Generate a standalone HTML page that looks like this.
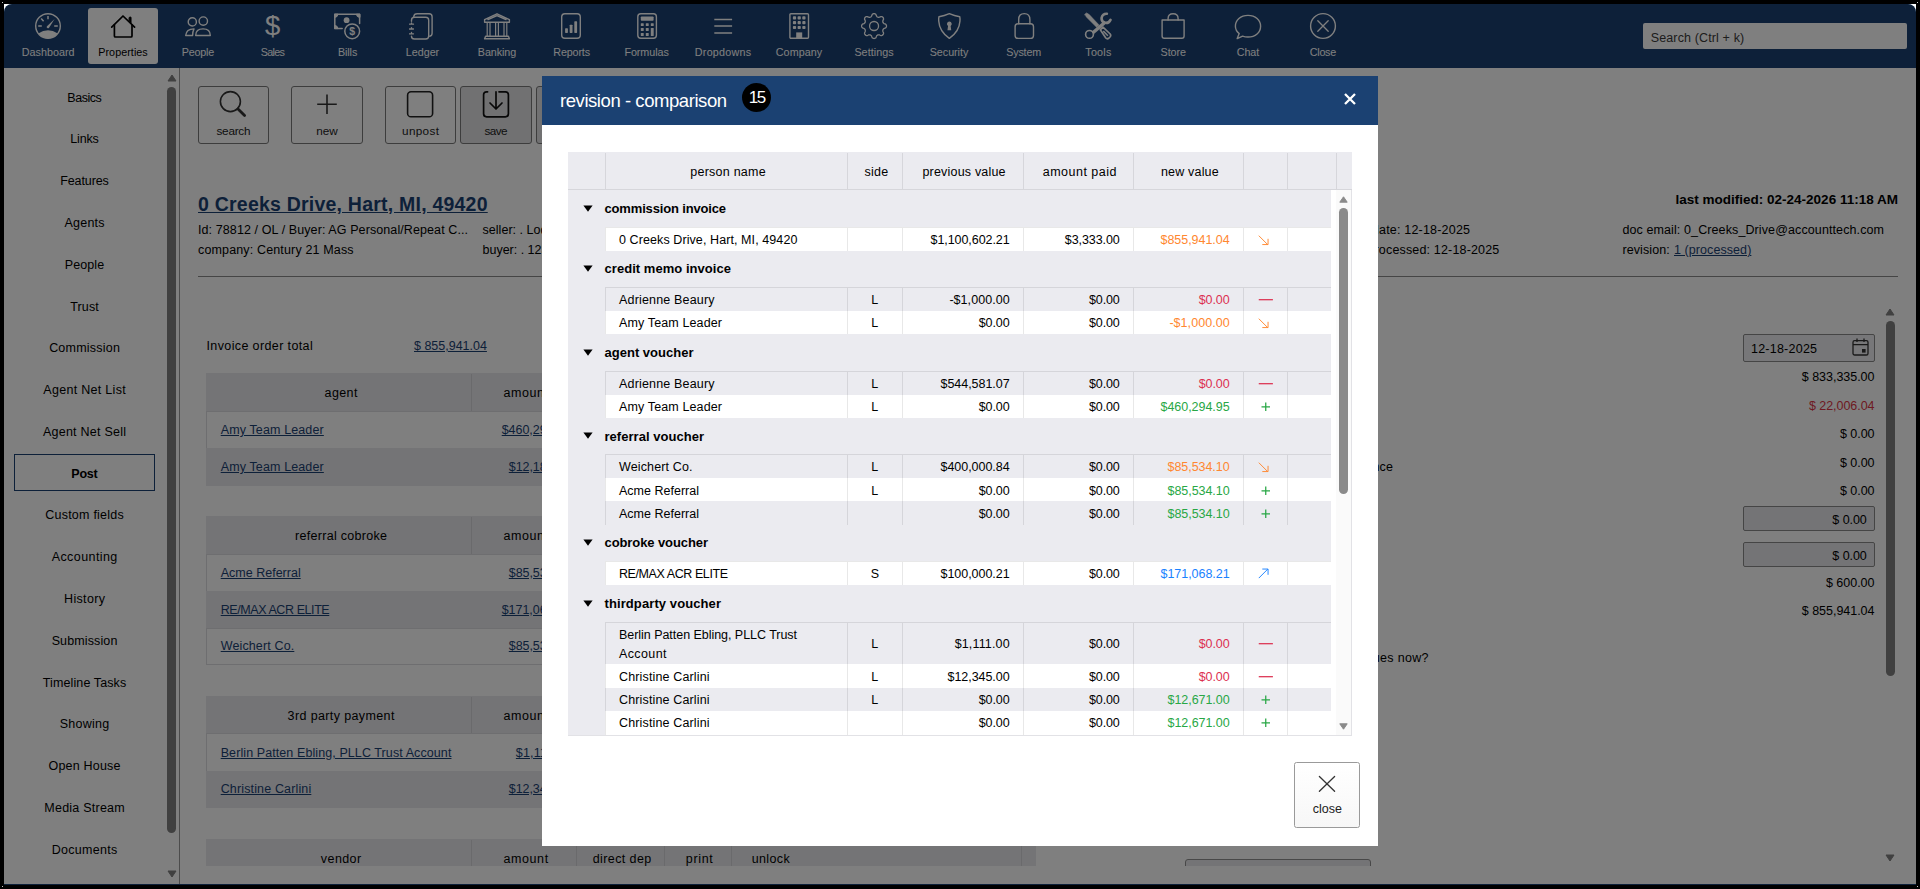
<!DOCTYPE html>
<html lang="en"><head><meta charset="utf-8"><title>revision - comparison</title>
<style>
*{box-sizing:border-box}
html,body{margin:0;padding:0}
body{width:1920px;height:889px;overflow:hidden;background:#000;position:relative;font-family:"Liberation Sans",Arial,sans-serif;color:#000}
#win{position:absolute;left:4px;top:4px;width:1912px;height:881px;background:#fff;overflow:hidden}
#page{position:absolute;left:-4px;top:-4px;width:1920px;height:889px}
#clip{position:absolute;left:0;top:0;width:1912px;height:881px;overflow:hidden;border-radius:8px 8px 0 0}
#page div,#page span,#page svg,#page a,#page nav,#page aside,#page main,#page header,#page section,
#modal div,#modal span,#modal svg,#modal header,#modal section,#modal button{position:absolute;white-space:pre;margin:0;padding:0}
#overlay{position:absolute;left:0;top:0;width:1912px;height:880px;background:rgba(0,0,0,.5);border-radius:8px 8px 0 0}
#modal{position:absolute;left:-4px;top:-4px;width:1920px;height:889px}
.lnk{color:#1b4172;text-decoration:underline}
button{font:inherit;background:none;border:0}
</style></head>
<body>
<div id="win">
<div id="clip">
<div id="page">
<nav style="left:4px;top:4px;width:1912px;height:64px;background:#1b4172">
<svg style="left:30.1px;top:8px;color:#fff" width="28" height="28" viewBox="0 0 28 28" fill="none" stroke="currentColor" stroke-width="1.4" stroke-linecap="round" stroke-linejoin="round" ><circle cx="14" cy="14" r="12.3"/>
<path d="M4.2 21.4 Q14 15 23.8 21.4 A12.3 12.3 0 0 1 4.2 21.4Z" fill="currentColor" stroke="none"/>
<path d="M13 14.2 L20.6 7 L14.9 15.9 Q13.6 16.8 12.8 15.6 Q12.4 14.8 13 14.2Z" fill="currentColor" stroke="none"/>
<path d="M14 3.9v3.4M7.2 6.6l2.4 2.6M4.2 14.1h3.6M20.2 14.1h3.6" stroke-width="1.5" stroke-linecap="butt"/></svg>
<span style="left:17.75px;top:42px;font-size:10.75px;line-height:12px;letter-spacing:0.014px;color:#fff;">Dashboard</span>
<div style="left:84px;top:4px;width:70px;height:56px;background:#fff;border-radius:3px"></div>
<svg style="left:105px;top:8px;color:#000" width="28" height="28" viewBox="0 0 28 28" fill="none" stroke="currentColor" stroke-width="1.4" stroke-linecap="round" stroke-linejoin="round" ><path d="M2.7 15.2 L14 4 L25.6 15.2" stroke-width="1.7"/>
<path d="M5.4 12.8 V24 Q5.4 25 6.4 25 H22 Q23 25 23 24 V12.8" stroke-width="1.7"/>
<path d="M20.1 5.4 Q21.2 4.2 22.2 5.4 V11 L20.1 9z" fill="currentColor" stroke-width=".6"/></svg>
<span style="left:94.26px;top:42px;font-size:10.75px;line-height:12px;letter-spacing:0.054px;color:#000;">Properties</span>
<svg style="left:180px;top:8px;color:#fff" width="28" height="28" viewBox="0 0 28 28" fill="none" stroke="currentColor" stroke-width="1.4" stroke-linecap="round" stroke-linejoin="round" ><circle cx="8.3" cy="9.9" r="4.1"/><circle cx="19.3" cy="9.1" r="4.2"/>
<path d="M11.7 23.5 H26.3 Q26.3 16.9 19 16.9 Q11.7 16.9 11.7 23.5Z"/>
<path d="M10 16.9 Q2.2 17 1.7 23.5 H8.6 Q8.6 19.6 10 16.9Z"/></svg>
<span style="left:177.75px;top:42px;font-size:10.75px;line-height:12px;letter-spacing:-0.194px;color:#fff;">People</span>
<svg style="left:254.8px;top:8px;color:#fff" width="28" height="28" viewBox="0 0 28 28" fill="none" stroke="currentColor" stroke-width="1.4" stroke-linecap="round" stroke-linejoin="round" ><text x="13.7" y="23.3" text-anchor="middle" font-family="Liberation Sans, sans-serif" font-size="27.5" fill="currentColor" stroke="none">$</text></svg>
<span style="left:256.65px;top:42px;font-size:10.75px;line-height:12px;letter-spacing:-0.648px;color:#fff;">Sales</span>
<svg style="left:329.6px;top:8px;color:#fff" width="28" height="28" viewBox="0 0 28 28" fill="none" stroke="currentColor" stroke-width="1.4" stroke-linecap="round" stroke-linejoin="round" ><g transform="translate(-0.8 0)"><path d="M9 16.6 H1.6 V2.2 H26.4 V11.6" stroke-width="1.5"/>
<path d="M1.6 5.4 Q4.6 5.2 4.8 2.2 H1.6Z M26.4 5.4 Q23.4 5.2 23.2 2.2 H26.4Z M1.6 13.4 Q4.6 13.6 4.8 16.6 H1.6Z" fill="currentColor" stroke-width="1"/>
<circle cx="13.4" cy="8.2" r="2.9" fill="currentColor" stroke="none"/>
<circle cx="19" cy="19.3" r="7.4" fill="#1b4172" stroke-width="1.5"/>
<text x="19" y="23.1" text-anchor="middle" font-family="Liberation Sans, sans-serif" font-size="10.5" font-weight="700" fill="currentColor" stroke="none">$</text></g></svg>
<span style="left:333.90px;top:42px;font-size:10.75px;line-height:12px;letter-spacing:-0.078px;color:#fff;">Bills</span>
<svg style="left:404.5px;top:8px;color:#fff" width="28" height="28" viewBox="0 0 28 28" fill="none" stroke="currentColor" stroke-width="1.4" stroke-linecap="round" stroke-linejoin="round" ><g transform="translate(-2.9 -0.4)"><path d="M7.6 5 Q8 2.2 11 2.2 H23 Q26 2.2 26 5.2 V21.6 Q26 24 23.6 24.6" />
<path d="M5.4 9.6 V8.6 Q5.4 5.6 8.4 5.6 H19.6 Q22.6 5.6 22.6 8.6 V24.4 Q22.6 27.4 19.6 27.4 H8.4 Q5.4 27.4 5.4 24.6"/>
<path d="M3.4 12.6h4M3.4 17.4h4M3.4 22.2h4M5.4 11.2v1.4M5.4 16v1.4M5.4 20.8v1.4" stroke-width="1.3"/></g></svg>
<span style="left:401.80px;top:42px;font-size:10.75px;line-height:12px;letter-spacing:-0.014px;color:#fff;">Ledger</span>
<svg style="left:479px;top:8px;color:#fff" width="28" height="28" viewBox="0 0 28 28" fill="none" stroke="currentColor" stroke-width="1.4" stroke-linecap="round" stroke-linejoin="round" ><g transform="translate(0 -0.4)"><path d="M1.6 8 L14 2.2 L26.4 8 V10.6 H1.6Z M5 8 L14 4 L23 8"/>
<path d="M1.6 27.2 H26.4 L25.4 24.6 H2.6Z"/>
<path d="M4.2 11v13.4M7 11v13.4M12.6 11v13.4M15.4 11v13.4M21 11v13.4M23.8 11v13.4" stroke-width="1.2"/></g></svg>
<span style="left:473.85px;top:42px;font-size:10.75px;line-height:12px;letter-spacing:-0.091px;color:#fff;">Banking</span>
<svg style="left:553.7px;top:8px;color:#fff" width="28" height="28" viewBox="0 0 28 28" fill="none" stroke="currentColor" stroke-width="1.4" stroke-linecap="round" stroke-linejoin="round" ><g transform="translate(-0.9 -0.7)"><rect x="4.6" y="2.4" width="18.6" height="24.6" rx="3.2"/>
<rect x="8" y="17" width="2.8" height="4.6" rx=".6" fill="currentColor" stroke="none"/><rect x="12.6" y="13.4" width="2.8" height="8.2" rx=".6" fill="currentColor" stroke="none"/><rect x="17.2" y="10" width="2.8" height="11.6" rx=".6" fill="currentColor" stroke="none"/></g></svg>
<span style="left:549.35px;top:42px;font-size:10.75px;line-height:12px;letter-spacing:-0.156px;color:#fff;">Reports</span>
<svg style="left:628.6px;top:8px;color:#fff" width="28" height="28" viewBox="0 0 28 28" fill="none" stroke="currentColor" stroke-width="1.4" stroke-linecap="round" stroke-linejoin="round" ><g transform="translate(0.2 -0.7)"><rect x="4.6" y="2.4" width="18.6" height="24.6" rx="3"/>
<rect x="7.6" y="5.2" width="12.8" height="4.2" rx=".8" fill="currentColor" stroke="none"/>
<g fill="currentColor" stroke="none"><rect x="7.6" y="12" width="2.9" height="2.8" rx=".5"/><rect x="12.6" y="12" width="2.9" height="2.8" rx=".5"/><rect x="17.6" y="12" width="2.9" height="2.8" rx=".5"/>
<rect x="7.6" y="16.8" width="2.9" height="2.8" rx=".5"/><rect x="12.6" y="16.8" width="2.9" height="2.8" rx=".5"/><rect x="17.6" y="16.8" width="2.9" height="7.8" rx=".5"/>
<rect x="7.6" y="21.8" width="2.9" height="2.8" rx=".5"/><rect x="12.6" y="21.8" width="2.9" height="2.8" rx=".5"/></g></g></svg>
<span style="left:620.41px;top:42px;font-size:10.75px;line-height:12px;letter-spacing:-0.059px;color:#fff;">Formulas</span>
<svg style="left:705px;top:8px;color:#fff" width="28" height="28" viewBox="0 0 28 28" fill="none" stroke="currentColor" stroke-width="1.4" stroke-linecap="round" stroke-linejoin="round" ><path d="M5.3 7.5h17.8M5.3 14.1h17.8M5.3 20.9h17.8" stroke-linecap="butt" stroke-width="1.5"/></svg>
<span style="left:690.78px;top:42px;font-size:10.75px;line-height:12px;letter-spacing:0.260px;color:#fff;">Dropdowns</span>
<svg style="left:781px;top:8px;color:#fff" width="28" height="28" viewBox="0 0 28 28" fill="none" stroke="currentColor" stroke-width="1.4" stroke-linecap="round" stroke-linejoin="round" ><g transform="translate(0.2 -0.6)"><rect x="4.7" y="2.3" width="18.6" height="24.6" rx="1"/>
<g fill="currentColor" stroke="none"><rect x="7.7" y="4.9" width="3.2" height="3.2" rx=".8"/><rect x="12.4" y="4.9" width="3.2" height="3.2" rx=".8"/><rect x="17.1" y="4.9" width="3.2" height="3.2" rx=".8"/>
<rect x="7.7" y="9.7" width="3.2" height="3.2" rx=".8"/><rect x="12.4" y="9.7" width="3.2" height="3.2" rx=".8"/><rect x="17.1" y="9.7" width="3.2" height="3.2" rx=".8"/>
<rect x="7.7" y="14.5" width="3.2" height="3.2" rx=".8"/><rect x="12.4" y="14.5" width="3.2" height="3.2" rx=".8"/><rect x="17.1" y="14.5" width="3.2" height="3.2" rx=".8"/>
<rect x="11" y="21" width="6" height="6"/></g></g></svg>
<span style="left:771.76px;top:42px;font-size:10.75px;line-height:12px;letter-spacing:0.079px;color:#fff;">Company</span>
<svg style="left:856px;top:8px;color:#fff" width="28" height="28" viewBox="0 0 28 28" fill="none" stroke="currentColor" stroke-width="1.4" stroke-linecap="round" stroke-linejoin="round" ><path d="M14.05 1.60 L14.54 1.65 L15.01 1.81 L15.47 2.07 L15.89 2.45 L16.21 3.21 L16.47 3.98 L16.77 4.39 L17.08 4.71 L17.40 4.96 L17.74 5.13 L18.11 5.25 L18.51 5.30 L18.95 5.30 L19.46 5.22 L20.19 4.86 L20.95 4.55 L21.52 4.57 L22.03 4.71 L22.47 4.94 L22.85 5.25 L23.16 5.63 L23.39 6.07 L23.53 6.58 L23.55 7.15 L23.24 7.91 L22.88 8.64 L22.80 9.15 L22.80 9.59 L22.85 9.99 L22.97 10.36 L23.14 10.70 L23.39 11.02 L23.71 11.33 L24.12 11.63 L24.89 11.89 L25.65 12.21 L26.03 12.63 L26.29 13.09 L26.45 13.56 L26.50 14.05 L26.45 14.54 L26.29 15.01 L26.03 15.47 L25.65 15.89 L24.89 16.21 L24.12 16.47 L23.71 16.77 L23.39 17.08 L23.14 17.40 L22.97 17.74 L22.85 18.11 L22.80 18.51 L22.80 18.95 L22.88 19.46 L23.24 20.19 L23.55 20.95 L23.53 21.52 L23.39 22.03 L23.16 22.47 L22.85 22.85 L22.47 23.16 L22.03 23.39 L21.52 23.53 L20.95 23.55 L20.19 23.24 L19.46 22.88 L18.95 22.80 L18.51 22.80 L18.11 22.85 L17.74 22.97 L17.40 23.14 L17.08 23.39 L16.77 23.71 L16.47 24.12 L16.21 24.89 L15.89 25.65 L15.47 26.03 L15.01 26.29 L14.54 26.45 L14.05 26.50 L13.56 26.45 L13.09 26.29 L12.63 26.03 L12.21 25.65 L11.89 24.89 L11.63 24.12 L11.33 23.71 L11.02 23.39 L10.70 23.14 L10.36 22.97 L9.99 22.85 L9.59 22.80 L9.15 22.80 L8.64 22.88 L7.91 23.24 L7.15 23.55 L6.58 23.53 L6.07 23.39 L5.63 23.16 L5.25 22.85 L4.94 22.47 L4.71 22.03 L4.57 21.52 L4.55 20.95 L4.86 20.19 L5.22 19.46 L5.30 18.95 L5.30 18.51 L5.25 18.11 L5.13 17.74 L4.96 17.40 L4.71 17.08 L4.39 16.77 L3.98 16.47 L3.21 16.21 L2.45 15.89 L2.07 15.47 L1.81 15.01 L1.65 14.54 L1.60 14.05 L1.65 13.56 L1.81 13.09 L2.07 12.63 L2.45 12.21 L3.21 11.89 L3.98 11.63 L4.39 11.33 L4.71 11.02 L4.96 10.70 L5.13 10.36 L5.25 9.99 L5.30 9.59 L5.30 9.15 L5.22 8.64 L4.86 7.91 L4.55 7.15 L4.57 6.58 L4.71 6.07 L4.94 5.63 L5.25 5.25 L5.63 4.94 L6.07 4.71 L6.58 4.57 L7.15 4.55 L7.91 4.86 L8.64 5.22 L9.15 5.30 L9.59 5.30 L9.99 5.25 L10.36 5.13 L10.70 4.96 L11.02 4.71 L11.33 4.39 L11.63 3.98 L11.89 3.21 L12.21 2.45 L12.63 2.07 L13.09 1.81 L13.56 1.65Z" stroke-width="1.3"/><circle cx="14.05" cy="14" r="4.5" stroke-width="1.3"/></svg>
<span style="left:850.42px;top:42px;font-size:10.75px;line-height:12px;letter-spacing:0.045px;color:#fff;">Settings</span>
<svg style="left:931px;top:8px;color:#fff" width="28" height="28" viewBox="0 0 28 28" fill="none" stroke="currentColor" stroke-width="1.4" stroke-linecap="round" stroke-linejoin="round" ><g transform="translate(0.35 -0.5)"><path d="M14 2.2 Q9 4.4 3.6 5.2 Q3.2 7 3.4 9.6 Q4 19.8 14 26.9 Q24 19.8 24.6 9.6 Q24.8 7 24.4 5.2 Q19 4.4 14 2.2Z"/>
<path d="M14 10a2.4 2.4 0 0 1 1.3 4.4l.6 4.3h-3.8l.6-4.3A2.4 2.4 0 0 1 14 10Z" fill="currentColor" stroke="none"/></g></svg>
<span style="left:925.75px;top:42px;font-size:10.75px;line-height:12px;letter-spacing:-0.046px;color:#fff;">Security</span>
<svg style="left:1005.7px;top:8px;color:#fff" width="28" height="28" viewBox="0 0 28 28" fill="none" stroke="currentColor" stroke-width="1.4" stroke-linecap="round" stroke-linejoin="round" ><g transform="translate(0.3 -0.8)"><rect x="4.8" y="12.6" width="18.4" height="14.6" rx="3"/>
<path d="M8.4 12.6 V8.4 Q8.4 2.4 14 2.4 Q19.6 2.4 19.6 8.4 V12.6"/></g></svg>
<span style="left:1002.30px;top:42px;font-size:10.75px;line-height:12px;letter-spacing:-0.206px;color:#fff;">System</span>
<svg style="left:1080.3px;top:8px;color:#fff" width="28" height="28" viewBox="0 0 28 28" fill="none" stroke="currentColor" stroke-width="1.4" stroke-linecap="round" stroke-linejoin="round" ><path d="M.8 2.3 L2.6 .9 L5.2 2.6 L15 12.9 L12.6 15.2 L2.4 5Z" fill="currentColor" stroke-width=".6"/>
<path d="M16.3 17.8 L19 15.1 L26.2 22 Q27.3 23.6 26 25 L24.8 26.2 Q23.2 27.4 21.8 26Z" stroke-width="1.7"/>
<path d="M19.3 19.1l4.6 4.6" stroke-width="1.5" stroke-linecap="butt"/>
<path d="M21.4 10 L8.6 21" stroke-width="3.4" stroke-linecap="butt"/>
<path d="M22.9 1.7 Q18.7 1.5 17.7 5.5 Q17.1 9 20.3 10.6 Q24.4 12 26.5 7.8" stroke-width="2.6" stroke-linecap="round"/>
<circle cx="5.5" cy="22.4" r="3.9" stroke-width="1.6"/></svg>
<span style="left:1081.33px;top:42px;font-size:10.75px;line-height:12px;letter-spacing:0.213px;color:#fff;">Tools</span>
<svg style="left:1155.3px;top:8px;color:#fff" width="28" height="28" viewBox="0 0 28 28" fill="none" stroke="currentColor" stroke-width="1.4" stroke-linecap="round" stroke-linejoin="round" ><g transform="translate(0.1 -0.9)"><path d="M3 8.9 H25 V25 Q25 27.2 22.8 27.2 H5.2 Q3 27.2 3 25Z"/>
<path d="M9 8.9 V7.4 Q9 2.6 14 2.6 Q19 2.6 19 7.4 V8.9"/></g></svg>
<span style="left:1156.53px;top:42px;font-size:10.75px;line-height:12px;letter-spacing:-0.037px;color:#fff;">Store</span>
<svg style="left:1230px;top:8px;color:#fff" width="28" height="28" viewBox="0 0 28 28" fill="none" stroke="currentColor" stroke-width="1.4" stroke-linecap="round" stroke-linejoin="round" ><path d="M14 3.4 C21.4 3.4 26.6 8 26.6 14.2 C26.6 20.4 21.4 25 14 25 C12 25 10.2 24.7 8.6 24.1 L3.2 26.6 L5.2 21.6 C2.8 19.6 1.4 17 1.4 14.2 C1.4 8 6.6 3.4 14 3.4Z"/></svg>
<span style="left:1232.86px;top:42px;font-size:10.75px;line-height:12px;letter-spacing:-0.143px;color:#fff;">Chat</span>
<svg style="left:1305px;top:8px;color:#fff" width="28" height="28" viewBox="0 0 28 28" fill="none" stroke="currentColor" stroke-width="1.4" stroke-linecap="round" stroke-linejoin="round" ><circle cx="14" cy="14" r="12.4"/><path d="M8.8 8.8l10.4 10.4M19.2 8.8L8.8 19.2" stroke-width="1.3"/></svg>
<span style="left:1305.85px;top:42px;font-size:10.75px;line-height:12px;letter-spacing:-0.295px;color:#fff;">Close</span>
<div style="left:1639px;top:19px;width:264px;height:26px;background:#fff;border-radius:2px"></div>
<span style="left:1646.70px;top:27px;font-size:12.5px;line-height:14px;letter-spacing:0.135px;color:#3a3a3a;">Search (Ctrl + k)</span>
</nav>
<aside style="left:4px;top:68px;width:176px;height:817px;border-right:1px solid #999">
<span style="left:63.36px;top:23px;font-size:12.5px;line-height:14px;letter-spacing:-0.506px;">Basics</span>
<span style="left:66.21px;top:64px;font-size:12.5px;line-height:14px;letter-spacing:-0.149px;">Links</span>
<span style="left:56.24px;top:106px;font-size:12.5px;line-height:14px;letter-spacing:-0.114px;">Features</span>
<span style="left:60.40px;top:148px;font-size:12.5px;line-height:14px;letter-spacing:0.257px;">Agents</span>
<span style="left:60.81px;top:190px;font-size:12.5px;line-height:14px;letter-spacing:0.092px;">People</span>
<span style="left:66.21px;top:232px;font-size:12.5px;line-height:14px;letter-spacing:0.145px;">Trust</span>
<span style="left:45.14px;top:273px;font-size:12.5px;line-height:14px;letter-spacing:0.218px;">Commission</span>
<span style="left:39.33px;top:315px;font-size:12.5px;line-height:14px;letter-spacing:0.294px;">Agent Net List</span>
<span style="left:38.92px;top:357px;font-size:12.5px;line-height:14px;letter-spacing:0.250px;">Agent Net Sell</span>
<div style="left:10px;top:386px;width:141px;height:37px;border:1px solid #1b4172"></div>
<span style="left:67.24px;top:399px;font-size:12.5px;line-height:14px;letter-spacing:-0.188px;font-weight:700;">Post</span>
<span style="left:41.26px;top:440px;font-size:12.5px;line-height:14px;letter-spacing:0.230px;">Custom fields</span>
<span style="left:47.69px;top:482px;font-size:12.5px;line-height:14px;letter-spacing:0.419px;">Accounting</span>
<span style="left:60.09px;top:524px;font-size:12.5px;line-height:14px;letter-spacing:0.323px;">History</span>
<span style="left:47.64px;top:566px;font-size:12.5px;line-height:14px;letter-spacing:0.124px;">Submission</span>
<span style="left:38.80px;top:608px;font-size:12.5px;line-height:14px;letter-spacing:0.110px;">Timeline Tasks</span>
<span style="left:55.71px;top:649px;font-size:12.5px;line-height:14px;letter-spacing:0.273px;">Showing</span>
<span style="left:44.46px;top:691px;font-size:12.5px;line-height:14px;letter-spacing:0.211px;">Open House</span>
<span style="left:40.32px;top:733px;font-size:12.5px;line-height:14px;letter-spacing:0.232px;">Media Stream</span>
<span style="left:47.66px;top:775px;font-size:12.5px;line-height:14px;letter-spacing:0.309px;">Documents</span>
<svg style="left:163px;top:6px" width="10" height="8" viewBox="0 0 10 8"><path d="M1 7 L5 1 L9 7Z" fill="#808080" stroke="#808080" stroke-width="1" stroke-linejoin="round"/></svg>
<div style="left:163px;top:19px;width:9px;height:746px;background:#808080;border-radius:4.5px"></div>
<svg style="left:163px;top:802px" width="10" height="8" viewBox="0 0 10 8"><path d="M1 1 L5 7 L9 1Z" fill="#808080" stroke="#808080" stroke-width="1" stroke-linejoin="round"/></svg>
</aside>
<main style="left:180px;top:68px;width:1736px;height:798px;overflow:hidden">
<div style="left:18px;top:18px;width:71px;height:58px;border:1px solid #7a7a7a;border-radius:3px;"></div>
<span style="left:36.49px;top:56px;font-size:11.75px;line-height:13px;letter-spacing:-0.250px;color:#222;">search</span>
<div style="left:111px;top:18px;width:72px;height:58px;border:1px solid #7a7a7a;border-radius:3px;"></div>
<span style="left:136.18px;top:56px;font-size:11.75px;line-height:13px;letter-spacing:0.042px;color:#222;">new</span>
<div style="left:205px;top:18px;width:71px;height:58px;border:1px solid #7a7a7a;border-radius:3px;"></div>
<span style="left:222.06px;top:56px;font-size:11.75px;line-height:13px;letter-spacing:0.321px;color:#222;">unpost</span>
<div style="left:280px;top:18px;width:72px;height:58px;border:1px solid #7a7a7a;border-radius:3px;background:#e2e2e4;"></div>
<span style="left:304.42px;top:56px;font-size:11.75px;line-height:13px;letter-spacing:-0.555px;color:#222;">save</span>
<div style="left:356px;top:18px;width:72px;height:58px;border:1px solid #7a7a7a;border-radius:3px;background:#e2e2e4;"></div>
<svg style="left:18px;top:18px" width="71" height="42" viewBox="0 0 71 42" fill="none" stroke="#333" stroke-width="1.6" stroke-linecap="round"><circle cx="32.4" cy="15.6" r="10"/><path d="M40 23 L46.6 29.6" stroke-width="2.8"/></svg>
<svg style="left:111px;top:18px" width="72" height="42" viewBox="0 0 72 42" fill="none" stroke="#333" stroke-width="1.6" stroke-linecap="butt"><path d="M36 8.4v19.6M26.2 18.2h19.6"/></svg>
<svg style="left:205px;top:18px" width="71" height="42" viewBox="0 0 71 42" fill="none" stroke="#222" stroke-width="1.6"><rect x="22.6" y="5.8" width="25" height="25" rx="3.4"/></svg>
<svg style="left:280px;top:18px" width="72" height="42" viewBox="0 0 72 42" fill="none" stroke="#111" stroke-width="1.7" stroke-linecap="round" stroke-linejoin="round"><path d="M27.6 5.8 H26.6 Q23.6 5.8 23.6 8.8 V27.8 Q23.6 30.8 26.6 30.8 H45.4 Q48.4 30.8 48.4 27.8 V8.8 Q48.4 5.8 45.4 5.8 H39"/><path d="M36 5.8 V22.6 M30 17 L36 23 L42 17"/></svg>
<span class="lnk" style="left:18.00px;top:125px;font-size:19.5px;line-height:22px;letter-spacing:0.220px;font-weight:700;">0 Creeks Drive, Hart, MI, 49420</span>
<span style="left:1495.40px;top:124px;font-size:13.5px;line-height:15px;letter-spacing:0.008px;font-weight:700;">last modified: 02-24-2026 11:18 AM</span>
<span style="left:18.00px;top:155px;font-size:12.5px;line-height:14px;letter-spacing:0.095px;">Id: 78812 / OL / Buyer: AG Personal/Repeat C...</span>
<span style="left:18.00px;top:175px;font-size:12.5px;line-height:14px;letter-spacing:0.147px;">company: Century 21 Mass</span>
<span style="left:302.50px;top:155px;font-size:12.5px;line-height:14px;letter-spacing:0.034px;">seller: . Lodge Buyer</span>
<span style="left:302.50px;top:175px;font-size:12.5px;line-height:14px;letter-spacing:-0.008px;">buyer: . 123 Sellers</span>
<span style="left:1158.04px;top:155px;font-size:12.5px;line-height:14px;letter-spacing:0.195px;">close date: 12-18-2025</span>
<span style="left:1187.40px;top:175px;font-size:12.5px;line-height:14px;letter-spacing:0.168px;">processed: 12-18-2025</span>
<span style="left:1442.40px;top:155px;font-size:12.5px;line-height:14px;letter-spacing:0.109px;">doc email: 0_Creeks_Drive@accounttech.com</span>
<span style="left:1442.40px;top:175px;font-size:12.5px;line-height:14px;letter-spacing:0.100px;">revision: </span>
<span class="lnk" style="left:1494.00px;top:175px;font-size:12.5px;line-height:14px;letter-spacing:0.074px;">1 (processed)</span>
<div style="left:18px;top:208px;width:1700px;height:1px;background:#8a8a8a"></div>
<span style="left:26.50px;top:271px;font-size:12.5px;line-height:14px;letter-spacing:0.380px;">Invoice order total</span>
<span class="lnk" style="left:234.00px;top:271px;font-size:12.5px;line-height:14px;letter-spacing:-0.007px;">$ 855,941.04</span>
<div style="left:26px;top:305px;width:830px;height:38px;background:#e9e9ed"></div>
<div style="left:291px;top:306px;width:1px;height:37px;background:#d4d4d8"></div>
<span style="left:144.58px;top:318px;font-size:12.5px;line-height:14px;letter-spacing:0.390px;">agent</span>
<span style="left:323.47px;top:318px;font-size:12.5px;line-height:14px;letter-spacing:0.594px;">amount</span>
<div style="left:26px;top:343px;width:830px;height:37px;border-left:1px solid #dcdce0;border-top:1px solid #dcdce0;"></div>
<span class="lnk" style="left:40.70px;top:355px;font-size:12.5px;line-height:14px;letter-spacing:0.128px;">Amy Team Leader</span>
<span class="lnk" style="left:321.71px;top:355px;font-size:12.5px;line-height:14px;letter-spacing:-0.041px;">$460,294.95</span>
<div style="left:26px;top:380px;width:830px;height:38px;background:#e9e9ed;"></div>
<span class="lnk" style="left:40.70px;top:392px;font-size:12.5px;line-height:14px;letter-spacing:0.128px;">Amy Team Leader</span>
<span class="lnk" style="left:328.78px;top:392px;font-size:12.5px;line-height:14px;letter-spacing:-0.060px;">$12,181.00</span>
<div style="left:26px;top:448px;width:830px;height:38px;background:#e9e9ed"></div>
<div style="left:291px;top:449px;width:1px;height:37px;background:#d4d4d8"></div>
<span style="left:115.09px;top:461px;font-size:12.5px;line-height:14px;letter-spacing:0.286px;">referral cobroke</span>
<span style="left:323.47px;top:461px;font-size:12.5px;line-height:14px;letter-spacing:0.594px;">amount</span>
<div style="left:26px;top:486px;width:830px;height:37px;border-left:1px solid #dcdce0;border-top:1px solid #dcdce0;"></div>
<span class="lnk" style="left:40.70px;top:498px;font-size:12.5px;line-height:14px;letter-spacing:0.010px;">Acme Referral</span>
<span class="lnk" style="left:328.78px;top:498px;font-size:12.5px;line-height:14px;letter-spacing:-0.060px;">$85,534.10</span>
<div style="left:26px;top:523px;width:830px;height:37px;background:#e9e9ed;"></div>
<span class="lnk" style="left:40.70px;top:535px;font-size:12.5px;line-height:14px;letter-spacing:-0.421px;">RE/MAX ACR ELITE</span>
<span class="lnk" style="left:321.71px;top:535px;font-size:12.5px;line-height:14px;letter-spacing:-0.041px;">$171,068.21</span>
<div style="left:26px;top:560px;width:830px;height:37px;border-left:1px solid #dcdce0;border-top:1px solid #dcdce0;border-bottom:1px solid #dcdce0;"></div>
<span class="lnk" style="left:40.70px;top:571px;font-size:12.5px;line-height:14px;letter-spacing:0.135px;">Weichert Co.</span>
<span class="lnk" style="left:328.78px;top:571px;font-size:12.5px;line-height:14px;letter-spacing:-0.060px;">$85,534.10</span>
<div style="left:26px;top:628px;width:830px;height:37px;background:#e9e9ed"></div>
<div style="left:291px;top:629px;width:1px;height:36px;background:#d4d4d8"></div>
<span style="left:107.60px;top:641px;font-size:12.5px;line-height:14px;letter-spacing:0.378px;">3rd party payment</span>
<span style="left:323.47px;top:641px;font-size:12.5px;line-height:14px;letter-spacing:0.594px;">amount</span>
<div style="left:26px;top:665px;width:830px;height:38px;border-left:1px solid #dcdce0;border-top:1px solid #dcdce0;"></div>
<span class="lnk" style="left:40.70px;top:678px;font-size:12.5px;line-height:14px;letter-spacing:0.089px;">Berlin Patten Ebling, PLLC Trust Account</span>
<span class="lnk" style="left:335.86px;top:678px;font-size:12.5px;line-height:14px;letter-spacing:0.149px;">$1,111.00</span>
<div style="left:26px;top:703px;width:830px;height:37px;background:#e9e9ed;"></div>
<span class="lnk" style="left:40.70px;top:714px;font-size:12.5px;line-height:14px;letter-spacing:0.143px;">Christine Carlini</span>
<span class="lnk" style="left:328.78px;top:714px;font-size:12.5px;line-height:14px;letter-spacing:-0.060px;">$12,345.00</span>
<div style="left:26px;top:771px;width:830px;height:40px;background:#e9e9ed"></div>
<div style="left:291px;top:772px;width:1px;height:40px;background:#d4d4d8"></div>
<div style="left:396px;top:772px;width:1px;height:40px;background:#d4d4d8"></div>
<div style="left:484px;top:772px;width:1px;height:40px;background:#d4d4d8"></div>
<div style="left:551px;top:772px;width:1px;height:40px;background:#d4d4d8"></div>
<div style="left:841px;top:772px;width:1px;height:40px;background:#d4d4d8"></div>
<span style="left:140.87px;top:784px;font-size:12.5px;line-height:14px;letter-spacing:0.408px;">vendor</span>
<span style="left:323.47px;top:784px;font-size:12.5px;line-height:14px;letter-spacing:0.594px;">amount</span>
<span style="left:412.78px;top:784px;font-size:12.5px;line-height:14px;letter-spacing:0.395px;">direct dep</span>
<span style="left:505.78px;top:784px;font-size:12.5px;line-height:14px;letter-spacing:0.681px;">print</span>
<span style="left:571.69px;top:784px;font-size:12.5px;line-height:14px;letter-spacing:0.376px;">unlock</span>
<div style="left:1005px;top:791px;width:186px;height:30px;background:#e9e9ed;border:1px solid #909090;border-radius:3px"></div>
<span style="left:1128.84px;top:392px;font-size:12.5px;line-height:14px;letter-spacing:0.180px;">agent advance</span>
<span style="left:1060.47px;top:583px;font-size:12.5px;line-height:14px;letter-spacing:0.326px;">do you want to apply dues now?</span>
<div style="left:1563px;top:266px;width:132px;height:28px;background:#efeff2;border:1px solid #8a8a8a;border-radius:2px"></div>
<span style="left:1571.00px;top:274px;font-size:12.5px;line-height:14px;letter-spacing:0.230px;">12-18-2025</span>
<svg style="left:1672px;top:270px" width="17" height="18" viewBox="0 0 17 18" fill="none" stroke="#333" stroke-width="1.3"><rect x="1" y="2.6" width="15" height="14.4" rx="1.6"/><path d="M1 6.6h15M5 .6v3.4M12 .6v3.4"/><rect x="10" y="11" width="3.6" height="3.6" fill="#333" stroke="none"/></svg>
<span style="left:1621.81px;top:302px;font-size:12.5px;line-height:14px;letter-spacing:-0.026px;color:#000;">$ 833,335.00</span>
<span style="left:1628.89px;top:331px;font-size:12.5px;line-height:14px;letter-spacing:-0.041px;color:#dc3545;">$ 22,006.04</span>
<span style="left:1660.05px;top:359px;font-size:12.5px;line-height:14px;letter-spacing:-0.059px;color:#000;">$ 0.00</span>
<span style="left:1660.05px;top:388px;font-size:12.5px;line-height:14px;letter-spacing:-0.059px;color:#000;">$ 0.00</span>
<span style="left:1660.05px;top:416px;font-size:12.5px;line-height:14px;letter-spacing:-0.059px;color:#000;">$ 0.00</span>
<span style="left:1645.89px;top:508px;font-size:12.5px;line-height:14px;letter-spacing:-0.006px;color:#000;">$ 600.00</span>
<span style="left:1621.81px;top:536px;font-size:12.5px;line-height:14px;letter-spacing:-0.026px;color:#000;">$ 855,941.04</span>
<div style="left:1563px;top:438px;width:132px;height:25px;background:#e9e9ed;border:1px solid #8a8a8a;border-radius:2px"></div>
<span style="left:1652.35px;top:445px;font-size:12.5px;line-height:14px;letter-spacing:-0.059px;">$ 0.00</span>
<div style="left:1563px;top:474px;width:132px;height:25px;background:#e9e9ed;border:1px solid #8a8a8a;border-radius:2px"></div>
<span style="left:1652.35px;top:481px;font-size:12.5px;line-height:14px;letter-spacing:-0.059px;">$ 0.00</span>
<svg style="left:1705.2px;top:240px" width="10" height="8" viewBox="0 0 10 8"><path d="M1 7 L5 1 L9 7Z" fill="#808080" stroke="#808080" stroke-width="1" stroke-linejoin="round"/></svg>
<div style="left:1706px;top:253px;width:9px;height:355px;background:#808080;border-radius:4.5px"></div>
<svg style="left:1705.2px;top:785.6px" width="10" height="8" viewBox="0 0 10 8"><path d="M1 1 L5 7 L9 1Z" fill="#808080" stroke="#808080" stroke-width="1" stroke-linejoin="round"/></svg>
</main>
</div>
<div id="overlay"></div>
</div>
<div style="left:0px;top:880px;width:1912px;height:1px;background:#0d2039;position:absolute"></div>
<div id="modal">
<div class="dlg" style="left:542px;top:76px;width:836px;height:770px;background:#fff"></div>
<header style="left:542px;top:76px;width:836px;height:48.5px;background:#1b4172;color:#fff">
<span style="left:18.00px;top:14px;font-size:18.5px;line-height:21px;letter-spacing:-0.440px;color:#fff;">revision - comparison</span>
<div style="left:199.8px;top:6.7px;width:29.4px;height:29.4px;background:#000;border-radius:50%"></div>
<span style="left:206.70px;top:12px;font-size:17px;line-height:19px;letter-spacing:-1.307px;color:#fff;">15</span>
<svg style="left:802px;top:17px" width="12" height="12" viewBox="0 0 12 12" stroke="#fff" stroke-width="2.3" stroke-linecap="butt"><path d="M1 1 L11 11 M11 1 L1 11"/></svg>
</header>
<section style="left:568px;top:152px;width:784px;height:584px">
<div style="left:0px;top:0px;width:784px;height:38px;background:#ebebf0;border-bottom:1px solid #d6d6db"></div>
<div style="left:37px;top:1px;width:1px;height:36px;background:#d6d6db"></div>
<div style="left:279px;top:1px;width:1px;height:36px;background:#d6d6db"></div>
<div style="left:334px;top:1px;width:1px;height:36px;background:#d6d6db"></div>
<div style="left:455px;top:1px;width:1px;height:36px;background:#d6d6db"></div>
<div style="left:565px;top:1px;width:1px;height:36px;background:#d6d6db"></div>
<div style="left:675px;top:1px;width:1px;height:36px;background:#d6d6db"></div>
<div style="left:719px;top:1px;width:1px;height:36px;background:#d6d6db"></div>
<div style="left:768px;top:1px;width:1px;height:36px;background:#d6d6db"></div>
<span style="left:122.35px;top:13px;font-size:12.5px;line-height:14px;letter-spacing:0.234px;">person name</span>
<span style="left:296.55px;top:13px;font-size:12.5px;line-height:14px;letter-spacing:0.257px;">side</span>
<span style="left:354.48px;top:13px;font-size:12.5px;line-height:14px;letter-spacing:0.188px;">previous value</span>
<span style="left:474.80px;top:13px;font-size:12.5px;line-height:14px;letter-spacing:0.481px;">amount paid</span>
<span style="left:592.90px;top:13px;font-size:12.5px;line-height:14px;letter-spacing:0.190px;">new value</span>
<div style="left:0px;top:38px;width:763px;height:545px;background:#ebebf0"></div>
<div style="left:768px;top:38px;width:16px;height:546px;background:#fafafa;border-right:1px solid #e2e2e6;border-bottom:1px solid #e2e2e6"></div>
<div style="left:0px;top:583px;width:784px;height:1px;background:#e2e2e6"></div>
<svg style="left:15px;top:52.5px" width="10" height="7" viewBox="0 0 10 7"><path d="M.4 .4 H9.6 L5 6.8Z" fill="#000"/></svg>
<span style="left:36.50px;top:49px;font-size:13px;line-height:15px;letter-spacing:-0.162px;font-weight:700;">commission invoice</span>
<div style="left:37px;top:75px;width:726px;height:24px;background:#fff"><div style="left:0px;top:0px;width:242px;height:24px;border-left:1px solid rgba(0,0,0,.09);border-top:1px solid rgba(0,0,0,.09);"></div><div style="left:242px;top:0px;width:55px;height:24px;border-left:1px solid rgba(0,0,0,.09);border-top:1px solid rgba(0,0,0,.09);"></div><div style="left:297px;top:0px;width:121px;height:24px;border-left:1px solid rgba(0,0,0,.09);border-top:1px solid rgba(0,0,0,.09);"></div><div style="left:418px;top:0px;width:110px;height:24px;border-left:1px solid rgba(0,0,0,.09);border-top:1px solid rgba(0,0,0,.09);"></div><div style="left:528px;top:0px;width:110px;height:24px;border-left:1px solid rgba(0,0,0,.09);border-top:1px solid rgba(0,0,0,.09);"></div><div style="left:638px;top:0px;width:44px;height:24px;border-left:1px solid rgba(0,0,0,.09);border-top:1px solid rgba(0,0,0,.09);"></div><div style="left:682px;top:0px;width:44px;height:24px;border-left:1px solid rgba(0,0,0,.09);border-top:1px solid rgba(0,0,0,.09);"></div></div>
<span style="left:51.00px;top:81px;font-size:12.5px;line-height:14px;letter-spacing:0.088px;">0 Creeks Drive, Hart, MI, 49420</span>
<span style="left:362.58px;top:81px;font-size:12.5px;line-height:14px;letter-spacing:-0.076px;">$1,100,602.21</span>
<span style="left:496.86px;top:81px;font-size:12.5px;line-height:14px;letter-spacing:-0.083px;">$3,333.00</span>
<span style="left:592.51px;top:81px;font-size:12.5px;line-height:14px;letter-spacing:-0.041px;color:#ff8730;">$855,941.04</span>
<svg style="left:690px;top:83px" width="11" height="11" viewBox="0 0 11 11" fill="none" stroke="#ff8730" stroke-width="0.95" stroke-linecap="butt" stroke-linejoin="miter"><path d="M.8 .7 L9.7 9.6 M4.3 9.55 H10.05 V3.8"/></svg>
<svg style="left:15px;top:112.5px" width="10" height="7" viewBox="0 0 10 7"><path d="M.4 .4 H9.6 L5 6.8Z" fill="#000"/></svg>
<span style="left:36.50px;top:109px;font-size:13px;line-height:15px;letter-spacing:0.044px;font-weight:700;">credit memo invoice</span>
<div style="left:37px;top:135px;width:726px;height:24px;background:#ebebf0"><div style="left:0px;top:0px;width:242px;height:24px;border-left:1px solid rgba(0,0,0,.09);border-top:1px solid rgba(0,0,0,.09);"></div><div style="left:242px;top:0px;width:55px;height:24px;border-left:1px solid rgba(0,0,0,.09);border-top:1px solid rgba(0,0,0,.09);"></div><div style="left:297px;top:0px;width:121px;height:24px;border-left:1px solid rgba(0,0,0,.09);border-top:1px solid rgba(0,0,0,.09);"></div><div style="left:418px;top:0px;width:110px;height:24px;border-left:1px solid rgba(0,0,0,.09);border-top:1px solid rgba(0,0,0,.09);"></div><div style="left:528px;top:0px;width:110px;height:24px;border-left:1px solid rgba(0,0,0,.09);border-top:1px solid rgba(0,0,0,.09);"></div><div style="left:638px;top:0px;width:44px;height:24px;border-left:1px solid rgba(0,0,0,.09);border-top:1px solid rgba(0,0,0,.09);"></div><div style="left:682px;top:0px;width:44px;height:24px;border-left:1px solid rgba(0,0,0,.09);border-top:1px solid rgba(0,0,0,.09);"></div></div>
<div style="left:37px;top:159px;width:726px;height:23px;background:#fff"><div style="left:0px;top:0px;width:242px;height:23px;border-left:1px solid rgba(0,0,0,.09);"></div><div style="left:242px;top:0px;width:55px;height:23px;border-left:1px solid rgba(0,0,0,.09);"></div><div style="left:297px;top:0px;width:121px;height:23px;border-left:1px solid rgba(0,0,0,.09);"></div><div style="left:418px;top:0px;width:110px;height:23px;border-left:1px solid rgba(0,0,0,.09);"></div><div style="left:528px;top:0px;width:110px;height:23px;border-left:1px solid rgba(0,0,0,.09);"></div><div style="left:638px;top:0px;width:44px;height:23px;border-left:1px solid rgba(0,0,0,.09);"></div><div style="left:682px;top:0px;width:44px;height:23px;border-left:1px solid rgba(0,0,0,.09);"></div></div>
<span style="left:51.00px;top:141px;font-size:12.5px;line-height:14px;letter-spacing:0.171px;">Adrienne Beaury</span>
<span style="left:303.32px;top:141px;font-size:12.5px;line-height:14px;">L</span>
<span style="left:381.41px;top:141px;font-size:12.5px;line-height:14px;letter-spacing:0.047px;">-$1,000.00</span>
<span style="left:520.94px;top:141px;font-size:12.5px;line-height:14px;letter-spacing:-0.105px;">$0.00</span>
<span style="left:630.74px;top:141px;font-size:12.5px;line-height:14px;letter-spacing:-0.105px;color:#dc3050;">$0.00</span>
<svg style="left:690px;top:142px" width="16" height="12" viewBox="0 0 16 12" fill="none" stroke="#dc3050" stroke-width="1.25" stroke-linecap="butt" stroke-linejoin="miter"><path d="M.75 5.7 H14.9"/></svg>
<span style="left:51.00px;top:164px;font-size:12.5px;line-height:14px;letter-spacing:0.128px;">Amy Team Leader</span>
<span style="left:303.32px;top:164px;font-size:12.5px;line-height:14px;">L</span>
<span style="left:410.74px;top:164px;font-size:12.5px;line-height:14px;letter-spacing:-0.105px;">$0.00</span>
<span style="left:520.94px;top:164px;font-size:12.5px;line-height:14px;letter-spacing:-0.105px;">$0.00</span>
<span style="left:601.41px;top:164px;font-size:12.5px;line-height:14px;letter-spacing:0.047px;color:#ff8730;">-$1,000.00</span>
<svg style="left:690px;top:166px" width="11" height="11" viewBox="0 0 11 11" fill="none" stroke="#ff8730" stroke-width="0.95" stroke-linecap="butt" stroke-linejoin="miter"><path d="M.8 .7 L9.7 9.6 M4.3 9.55 H10.05 V3.8"/></svg>
<svg style="left:15px;top:196.5px" width="10" height="7" viewBox="0 0 10 7"><path d="M.4 .4 H9.6 L5 6.8Z" fill="#000"/></svg>
<span style="left:36.50px;top:193px;font-size:13px;line-height:15px;letter-spacing:0.013px;font-weight:700;">agent voucher</span>
<div style="left:37px;top:219px;width:726px;height:24px;background:#ebebf0"><div style="left:0px;top:0px;width:242px;height:24px;border-left:1px solid rgba(0,0,0,.09);border-top:1px solid rgba(0,0,0,.09);"></div><div style="left:242px;top:0px;width:55px;height:24px;border-left:1px solid rgba(0,0,0,.09);border-top:1px solid rgba(0,0,0,.09);"></div><div style="left:297px;top:0px;width:121px;height:24px;border-left:1px solid rgba(0,0,0,.09);border-top:1px solid rgba(0,0,0,.09);"></div><div style="left:418px;top:0px;width:110px;height:24px;border-left:1px solid rgba(0,0,0,.09);border-top:1px solid rgba(0,0,0,.09);"></div><div style="left:528px;top:0px;width:110px;height:24px;border-left:1px solid rgba(0,0,0,.09);border-top:1px solid rgba(0,0,0,.09);"></div><div style="left:638px;top:0px;width:44px;height:24px;border-left:1px solid rgba(0,0,0,.09);border-top:1px solid rgba(0,0,0,.09);"></div><div style="left:682px;top:0px;width:44px;height:24px;border-left:1px solid rgba(0,0,0,.09);border-top:1px solid rgba(0,0,0,.09);"></div></div>
<div style="left:37px;top:243px;width:726px;height:23px;background:#fff"><div style="left:0px;top:0px;width:242px;height:23px;border-left:1px solid rgba(0,0,0,.09);"></div><div style="left:242px;top:0px;width:55px;height:23px;border-left:1px solid rgba(0,0,0,.09);"></div><div style="left:297px;top:0px;width:121px;height:23px;border-left:1px solid rgba(0,0,0,.09);"></div><div style="left:418px;top:0px;width:110px;height:23px;border-left:1px solid rgba(0,0,0,.09);"></div><div style="left:528px;top:0px;width:110px;height:23px;border-left:1px solid rgba(0,0,0,.09);"></div><div style="left:638px;top:0px;width:44px;height:23px;border-left:1px solid rgba(0,0,0,.09);"></div><div style="left:682px;top:0px;width:44px;height:23px;border-left:1px solid rgba(0,0,0,.09);"></div></div>
<span style="left:51.00px;top:225px;font-size:12.5px;line-height:14px;letter-spacing:0.171px;">Adrienne Beaury</span>
<span style="left:303.32px;top:225px;font-size:12.5px;line-height:14px;">L</span>
<span style="left:372.51px;top:225px;font-size:12.5px;line-height:14px;letter-spacing:-0.041px;">$544,581.07</span>
<span style="left:520.94px;top:225px;font-size:12.5px;line-height:14px;letter-spacing:-0.105px;">$0.00</span>
<span style="left:630.74px;top:225px;font-size:12.5px;line-height:14px;letter-spacing:-0.105px;color:#dc3050;">$0.00</span>
<svg style="left:690px;top:226px" width="16" height="12" viewBox="0 0 16 12" fill="none" stroke="#dc3050" stroke-width="1.25" stroke-linecap="butt" stroke-linejoin="miter"><path d="M.75 5.7 H14.9"/></svg>
<span style="left:51.00px;top:248px;font-size:12.5px;line-height:14px;letter-spacing:0.128px;">Amy Team Leader</span>
<span style="left:303.32px;top:248px;font-size:12.5px;line-height:14px;">L</span>
<span style="left:410.74px;top:248px;font-size:12.5px;line-height:14px;letter-spacing:-0.105px;">$0.00</span>
<span style="left:520.94px;top:248px;font-size:12.5px;line-height:14px;letter-spacing:-0.105px;">$0.00</span>
<span style="left:592.51px;top:248px;font-size:12.5px;line-height:14px;letter-spacing:-0.041px;color:#28a745;">$460,294.95</span>
<svg style="left:690px;top:249px" width="16" height="12" viewBox="0 0 16 12" fill="none" stroke="#28a745" stroke-width="1.25" stroke-linecap="butt" stroke-linejoin="miter"><path d="M3.5 5.8 H12 M7.75 1.5 V10.1"/></svg>
<svg style="left:15px;top:279.5px" width="10" height="7" viewBox="0 0 10 7"><path d="M.4 .4 H9.6 L5 6.8Z" fill="#000"/></svg>
<span style="left:36.50px;top:277px;font-size:13px;line-height:15px;letter-spacing:0.034px;font-weight:700;">referral voucher</span>
<div style="left:37px;top:302px;width:726px;height:24px;background:#ebebf0"><div style="left:0px;top:0px;width:242px;height:24px;border-left:1px solid rgba(0,0,0,.09);border-top:1px solid rgba(0,0,0,.09);"></div><div style="left:242px;top:0px;width:55px;height:24px;border-left:1px solid rgba(0,0,0,.09);border-top:1px solid rgba(0,0,0,.09);"></div><div style="left:297px;top:0px;width:121px;height:24px;border-left:1px solid rgba(0,0,0,.09);border-top:1px solid rgba(0,0,0,.09);"></div><div style="left:418px;top:0px;width:110px;height:24px;border-left:1px solid rgba(0,0,0,.09);border-top:1px solid rgba(0,0,0,.09);"></div><div style="left:528px;top:0px;width:110px;height:24px;border-left:1px solid rgba(0,0,0,.09);border-top:1px solid rgba(0,0,0,.09);"></div><div style="left:638px;top:0px;width:44px;height:24px;border-left:1px solid rgba(0,0,0,.09);border-top:1px solid rgba(0,0,0,.09);"></div><div style="left:682px;top:0px;width:44px;height:24px;border-left:1px solid rgba(0,0,0,.09);border-top:1px solid rgba(0,0,0,.09);"></div></div>
<div style="left:37px;top:326px;width:726px;height:23px;background:#fff"><div style="left:0px;top:0px;width:242px;height:23px;border-left:1px solid rgba(0,0,0,.09);"></div><div style="left:242px;top:0px;width:55px;height:23px;border-left:1px solid rgba(0,0,0,.09);"></div><div style="left:297px;top:0px;width:121px;height:23px;border-left:1px solid rgba(0,0,0,.09);"></div><div style="left:418px;top:0px;width:110px;height:23px;border-left:1px solid rgba(0,0,0,.09);"></div><div style="left:528px;top:0px;width:110px;height:23px;border-left:1px solid rgba(0,0,0,.09);"></div><div style="left:638px;top:0px;width:44px;height:23px;border-left:1px solid rgba(0,0,0,.09);"></div><div style="left:682px;top:0px;width:44px;height:23px;border-left:1px solid rgba(0,0,0,.09);"></div></div>
<div style="left:37px;top:349px;width:726px;height:24px;background:#ebebf0"><div style="left:0px;top:0px;width:242px;height:24px;border-left:1px solid rgba(0,0,0,.09);"></div><div style="left:242px;top:0px;width:55px;height:24px;border-left:1px solid rgba(0,0,0,.09);"></div><div style="left:297px;top:0px;width:121px;height:24px;border-left:1px solid rgba(0,0,0,.09);"></div><div style="left:418px;top:0px;width:110px;height:24px;border-left:1px solid rgba(0,0,0,.09);"></div><div style="left:528px;top:0px;width:110px;height:24px;border-left:1px solid rgba(0,0,0,.09);"></div><div style="left:638px;top:0px;width:44px;height:24px;border-left:1px solid rgba(0,0,0,.09);"></div><div style="left:682px;top:0px;width:44px;height:24px;border-left:1px solid rgba(0,0,0,.09);"></div></div>
<span style="left:51.00px;top:308px;font-size:12.5px;line-height:14px;letter-spacing:0.135px;">Weichert Co.</span>
<span style="left:303.32px;top:308px;font-size:12.5px;line-height:14px;">L</span>
<span style="left:372.51px;top:308px;font-size:12.5px;line-height:14px;letter-spacing:-0.041px;">$400,000.84</span>
<span style="left:520.94px;top:308px;font-size:12.5px;line-height:14px;letter-spacing:-0.105px;">$0.00</span>
<span style="left:599.58px;top:308px;font-size:12.5px;line-height:14px;letter-spacing:-0.060px;color:#ff8730;">$85,534.10</span>
<svg style="left:690px;top:310px" width="11" height="11" viewBox="0 0 11 11" fill="none" stroke="#ff8730" stroke-width="0.95" stroke-linecap="butt" stroke-linejoin="miter"><path d="M.8 .7 L9.7 9.6 M4.3 9.55 H10.05 V3.8"/></svg>
<span style="left:51.00px;top:332px;font-size:12.5px;line-height:14px;letter-spacing:0.010px;">Acme Referral</span>
<span style="left:303.32px;top:332px;font-size:12.5px;line-height:14px;">L</span>
<span style="left:410.74px;top:332px;font-size:12.5px;line-height:14px;letter-spacing:-0.105px;">$0.00</span>
<span style="left:520.94px;top:332px;font-size:12.5px;line-height:14px;letter-spacing:-0.105px;">$0.00</span>
<span style="left:599.58px;top:332px;font-size:12.5px;line-height:14px;letter-spacing:-0.060px;color:#28a745;">$85,534.10</span>
<svg style="left:690px;top:333px" width="16" height="12" viewBox="0 0 16 12" fill="none" stroke="#28a745" stroke-width="1.25" stroke-linecap="butt" stroke-linejoin="miter"><path d="M3.5 5.8 H12 M7.75 1.5 V10.1"/></svg>
<span style="left:51.00px;top:355px;font-size:12.5px;line-height:14px;letter-spacing:0.010px;">Acme Referral</span>
<span style="left:410.74px;top:355px;font-size:12.5px;line-height:14px;letter-spacing:-0.105px;">$0.00</span>
<span style="left:520.94px;top:355px;font-size:12.5px;line-height:14px;letter-spacing:-0.105px;">$0.00</span>
<span style="left:599.58px;top:355px;font-size:12.5px;line-height:14px;letter-spacing:-0.060px;color:#28a745;">$85,534.10</span>
<svg style="left:690px;top:356px" width="16" height="12" viewBox="0 0 16 12" fill="none" stroke="#28a745" stroke-width="1.25" stroke-linecap="butt" stroke-linejoin="miter"><path d="M3.5 5.8 H12 M7.75 1.5 V10.1"/></svg>
<svg style="left:15px;top:386.5px" width="10" height="7" viewBox="0 0 10 7"><path d="M.4 .4 H9.6 L5 6.8Z" fill="#000"/></svg>
<span style="left:36.50px;top:383px;font-size:13px;line-height:15px;letter-spacing:-0.089px;font-weight:700;">cobroke voucher</span>
<div style="left:37px;top:409px;width:726px;height:24px;background:#fff"><div style="left:0px;top:0px;width:242px;height:24px;border-left:1px solid rgba(0,0,0,.09);border-top:1px solid rgba(0,0,0,.09);"></div><div style="left:242px;top:0px;width:55px;height:24px;border-left:1px solid rgba(0,0,0,.09);border-top:1px solid rgba(0,0,0,.09);"></div><div style="left:297px;top:0px;width:121px;height:24px;border-left:1px solid rgba(0,0,0,.09);border-top:1px solid rgba(0,0,0,.09);"></div><div style="left:418px;top:0px;width:110px;height:24px;border-left:1px solid rgba(0,0,0,.09);border-top:1px solid rgba(0,0,0,.09);"></div><div style="left:528px;top:0px;width:110px;height:24px;border-left:1px solid rgba(0,0,0,.09);border-top:1px solid rgba(0,0,0,.09);"></div><div style="left:638px;top:0px;width:44px;height:24px;border-left:1px solid rgba(0,0,0,.09);border-top:1px solid rgba(0,0,0,.09);"></div><div style="left:682px;top:0px;width:44px;height:24px;border-left:1px solid rgba(0,0,0,.09);border-top:1px solid rgba(0,0,0,.09);"></div></div>
<span style="left:51.00px;top:415px;font-size:12.5px;line-height:14px;letter-spacing:-0.421px;">RE/MAX ACR ELITE</span>
<span style="left:302.63px;top:415px;font-size:12.5px;line-height:14px;">S</span>
<span style="left:372.51px;top:415px;font-size:12.5px;line-height:14px;letter-spacing:-0.041px;">$100,000.21</span>
<span style="left:520.94px;top:415px;font-size:12.5px;line-height:14px;letter-spacing:-0.105px;">$0.00</span>
<span style="left:592.51px;top:415px;font-size:12.5px;line-height:14px;letter-spacing:-0.041px;color:#1a82ff;">$171,068.21</span>
<svg style="left:690px;top:415.5px" width="11" height="11" viewBox="0 0 11 11" fill="none" stroke="#1a82ff" stroke-width="0.95" stroke-linecap="butt" stroke-linejoin="miter"><path d="M.8 10.1 L9.7 1.2 M4.3 1.05 H10.05 V6.8"/></svg>
<svg style="left:15px;top:447.5px" width="10" height="7" viewBox="0 0 10 7"><path d="M.4 .4 H9.6 L5 6.8Z" fill="#000"/></svg>
<span style="left:36.50px;top:444px;font-size:13px;line-height:15px;letter-spacing:0.097px;font-weight:700;">thirdparty voucher</span>
<div style="left:37px;top:470px;width:726px;height:42px;background:#ebebf0"><div style="left:0px;top:0px;width:242px;height:42px;border-left:1px solid rgba(0,0,0,.09);border-top:1px solid rgba(0,0,0,.09);"></div><div style="left:242px;top:0px;width:55px;height:42px;border-left:1px solid rgba(0,0,0,.09);border-top:1px solid rgba(0,0,0,.09);"></div><div style="left:297px;top:0px;width:121px;height:42px;border-left:1px solid rgba(0,0,0,.09);border-top:1px solid rgba(0,0,0,.09);"></div><div style="left:418px;top:0px;width:110px;height:42px;border-left:1px solid rgba(0,0,0,.09);border-top:1px solid rgba(0,0,0,.09);"></div><div style="left:528px;top:0px;width:110px;height:42px;border-left:1px solid rgba(0,0,0,.09);border-top:1px solid rgba(0,0,0,.09);"></div><div style="left:638px;top:0px;width:44px;height:42px;border-left:1px solid rgba(0,0,0,.09);border-top:1px solid rgba(0,0,0,.09);"></div><div style="left:682px;top:0px;width:44px;height:42px;border-left:1px solid rgba(0,0,0,.09);border-top:1px solid rgba(0,0,0,.09);"></div></div>
<div style="left:37px;top:512px;width:726px;height:24px;background:#fff"><div style="left:0px;top:0px;width:242px;height:24px;border-left:1px solid rgba(0,0,0,.09);"></div><div style="left:242px;top:0px;width:55px;height:24px;border-left:1px solid rgba(0,0,0,.09);"></div><div style="left:297px;top:0px;width:121px;height:24px;border-left:1px solid rgba(0,0,0,.09);"></div><div style="left:418px;top:0px;width:110px;height:24px;border-left:1px solid rgba(0,0,0,.09);"></div><div style="left:528px;top:0px;width:110px;height:24px;border-left:1px solid rgba(0,0,0,.09);"></div><div style="left:638px;top:0px;width:44px;height:24px;border-left:1px solid rgba(0,0,0,.09);"></div><div style="left:682px;top:0px;width:44px;height:24px;border-left:1px solid rgba(0,0,0,.09);"></div></div>
<div style="left:37px;top:536px;width:726px;height:23px;background:#ebebf0"><div style="left:0px;top:0px;width:242px;height:23px;border-left:1px solid rgba(0,0,0,.09);"></div><div style="left:242px;top:0px;width:55px;height:23px;border-left:1px solid rgba(0,0,0,.09);"></div><div style="left:297px;top:0px;width:121px;height:23px;border-left:1px solid rgba(0,0,0,.09);"></div><div style="left:418px;top:0px;width:110px;height:23px;border-left:1px solid rgba(0,0,0,.09);"></div><div style="left:528px;top:0px;width:110px;height:23px;border-left:1px solid rgba(0,0,0,.09);"></div><div style="left:638px;top:0px;width:44px;height:23px;border-left:1px solid rgba(0,0,0,.09);"></div><div style="left:682px;top:0px;width:44px;height:23px;border-left:1px solid rgba(0,0,0,.09);"></div></div>
<div style="left:37px;top:559px;width:726px;height:24px;background:#fff"><div style="left:0px;top:0px;width:242px;height:24px;border-left:1px solid rgba(0,0,0,.09);"></div><div style="left:242px;top:0px;width:55px;height:24px;border-left:1px solid rgba(0,0,0,.09);"></div><div style="left:297px;top:0px;width:121px;height:24px;border-left:1px solid rgba(0,0,0,.09);"></div><div style="left:418px;top:0px;width:110px;height:24px;border-left:1px solid rgba(0,0,0,.09);"></div><div style="left:528px;top:0px;width:110px;height:24px;border-left:1px solid rgba(0,0,0,.09);"></div><div style="left:638px;top:0px;width:44px;height:24px;border-left:1px solid rgba(0,0,0,.09);"></div><div style="left:682px;top:0px;width:44px;height:24px;border-left:1px solid rgba(0,0,0,.09);"></div></div>
<span style="left:51.00px;top:476px;font-size:12.5px;line-height:14px;letter-spacing:-0.040px;">Berlin Patten Ebling, PLLC Trust</span>
<span style="left:51.00px;top:495px;font-size:12.5px;line-height:14px;letter-spacing:0.389px;">Account</span>
<span style="left:303.32px;top:485px;font-size:12.5px;line-height:14px;">L</span>
<span style="left:386.66px;top:485px;font-size:12.5px;line-height:14px;letter-spacing:0.149px;">$1,111.00</span>
<span style="left:520.94px;top:485px;font-size:12.5px;line-height:14px;letter-spacing:-0.105px;">$0.00</span>
<span style="left:630.74px;top:485px;font-size:12.5px;line-height:14px;letter-spacing:-0.105px;color:#dc3050;">$0.00</span>
<svg style="left:690px;top:486px" width="16" height="12" viewBox="0 0 16 12" fill="none" stroke="#dc3050" stroke-width="1.25" stroke-linecap="butt" stroke-linejoin="miter"><path d="M.75 5.7 H14.9"/></svg>
<span style="left:51.00px;top:518px;font-size:12.5px;line-height:14px;letter-spacing:0.143px;">Christine Carlini</span>
<span style="left:303.32px;top:518px;font-size:12.5px;line-height:14px;">L</span>
<span style="left:379.58px;top:518px;font-size:12.5px;line-height:14px;letter-spacing:-0.060px;">$12,345.00</span>
<span style="left:520.94px;top:518px;font-size:12.5px;line-height:14px;letter-spacing:-0.105px;">$0.00</span>
<span style="left:630.74px;top:518px;font-size:12.5px;line-height:14px;letter-spacing:-0.105px;color:#dc3050;">$0.00</span>
<svg style="left:690px;top:519px" width="16" height="12" viewBox="0 0 16 12" fill="none" stroke="#dc3050" stroke-width="1.25" stroke-linecap="butt" stroke-linejoin="miter"><path d="M.75 5.7 H14.9"/></svg>
<span style="left:51.00px;top:541px;font-size:12.5px;line-height:14px;letter-spacing:0.143px;">Christine Carlini</span>
<span style="left:303.32px;top:541px;font-size:12.5px;line-height:14px;">L</span>
<span style="left:410.74px;top:541px;font-size:12.5px;line-height:14px;letter-spacing:-0.105px;">$0.00</span>
<span style="left:520.94px;top:541px;font-size:12.5px;line-height:14px;letter-spacing:-0.105px;">$0.00</span>
<span style="left:599.58px;top:541px;font-size:12.5px;line-height:14px;letter-spacing:-0.060px;color:#28a745;">$12,671.00</span>
<svg style="left:690px;top:542px" width="16" height="12" viewBox="0 0 16 12" fill="none" stroke="#28a745" stroke-width="1.25" stroke-linecap="butt" stroke-linejoin="miter"><path d="M3.5 5.8 H12 M7.75 1.5 V10.1"/></svg>
<span style="left:51.00px;top:564px;font-size:12.5px;line-height:14px;letter-spacing:0.143px;">Christine Carlini</span>
<span style="left:410.74px;top:564px;font-size:12.5px;line-height:14px;letter-spacing:-0.105px;">$0.00</span>
<span style="left:520.94px;top:564px;font-size:12.5px;line-height:14px;letter-spacing:-0.105px;">$0.00</span>
<span style="left:599.58px;top:564px;font-size:12.5px;line-height:14px;letter-spacing:-0.060px;color:#28a745;">$12,671.00</span>
<svg style="left:690px;top:565px" width="16" height="12" viewBox="0 0 16 12" fill="none" stroke="#28a745" stroke-width="1.25" stroke-linecap="butt" stroke-linejoin="miter"><path d="M3.5 5.8 H12 M7.75 1.5 V10.1"/></svg>
<svg style="left:771px;top:43.5px" width="9" height="7" viewBox="0 0 9 7"><path d="M.8 6.2 L4.5 .8 L8.2 6.2Z" fill="#8a8a8a" stroke="#8a8a8a" stroke-width="1" stroke-linejoin="round"/></svg>
<div style="left:771px;top:56px;width:9px;height:286px;background:#8a8a8a;border-radius:4.5px"></div>
<svg style="left:771px;top:570.5px" width="9" height="7" viewBox="0 0 9 7"><path d="M.8 .8 L4.5 6.2 L8.2 .8Z" fill="#8a8a8a" stroke="#8a8a8a" stroke-width="1" stroke-linejoin="round"/></svg>
</section>
<button type="button" style="left:1294px;top:762px;width:66px;height:66px;border:1px solid #9a9a9a;border-radius:2.5px;background:linear-gradient(#fff,#f7f7f7)">
<svg style="left:22px;top:11px" width="20" height="20" viewBox="0 0 20 20" fill="none" stroke="#333" stroke-width="1.3" stroke-linecap="round"><path d="M2.4 2.5 L17.6 17.3 M17.6 2.5 L2.4 17.3"/></svg>
<span style="left:17.75px;top:39px;font-size:12.5px;line-height:14px;letter-spacing:0.030px;color:#222;">close</span>
</button>
</div>
</div>
<div style="position:absolute;left:2px;top:2px;width:1px;height:1px;background:#c8c8c8"></div>
<div style="position:absolute;left:1917px;top:2px;width:1px;height:1px;background:#c8c8c8"></div>
<div style="position:absolute;left:2px;top:886px;width:1px;height:1px;background:#c8c8c8"></div>
<div style="position:absolute;left:1917px;top:886px;width:1px;height:1px;background:#c8c8c8"></div>
</body></html>
